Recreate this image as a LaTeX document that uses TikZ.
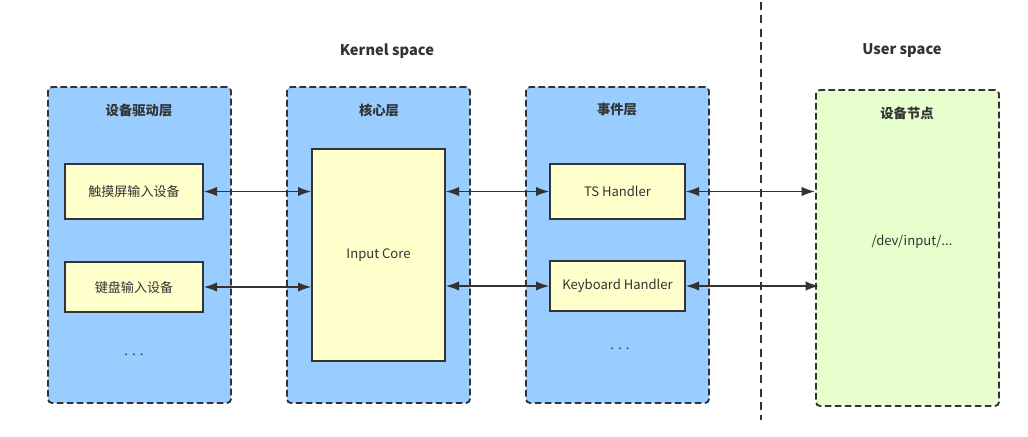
\documentclass[tikz,border=0pt]{standalone}
\usepackage{fontspec}
\setmainfont{Noto Sans CJK SC}
\usetikzlibrary{calc,arrows.meta}
\definecolor{grpblue}{HTML}{99CCFF}
\definecolor{grpgreen}{HTML}{E6FFCC}
\definecolor{boxyellow}{HTML}{FFFFCC}
\definecolor{inkgray}{HTML}{333333}

\begin{document}
\begin{tikzpicture}[x=0.75pt,y=-0.75pt,
    group/.style={draw=inkgray,line width=1.4pt,dash pattern=on 5pt off 2.5pt,
      rounded corners=3pt,fill=grpblue,minimum width=137.25pt,minimum height=237pt,inner sep=0pt},
    unit/.style={draw=inkgray,line width=1pt,fill=boxyellow,minimum width=103.5pt,
      minimum height=41.25pt,inner sep=0pt,text=inkgray,font=\fontsize{9.8}{11}\selectfont},
    title/.style={text=inkgray,font=\fontsize{10}{12}\selectfont\bfseries},
    link/.style={<->,>={Latex[length=10pt,width=7pt]},draw=inkgray,line width=1.3pt}]
  \useasboundingbox (0,0) rectangle (1028,436);
  \fill[white] (0,0) rectangle (1028,436);
  % kernel / user split
  \draw[inkgray,line width=1.5pt,dash pattern=on 6pt off 4pt] (761,2) -- (761,420);
  \node[title,font=\fontsize{11}{13}\selectfont\bfseries] (kernel) at (387,51) {Kernel space};
  \node[title,font=\fontsize{11}{13}\selectfont\bfseries] (userspace) at (902,51) {User space};
  % groups
  \node[group] (drv) at (139.5,245) {};
  \node[group] (corel) at (378.5,245) {};
  \node[group] (evt) at (617.5,245) {};
  \node[group,fill=grpgreen] (user) at (907.5,248) {};
  \node[title] (drvt) at (139,110) {设备驱动层};
  \node[title] (corelt) at (379,110) {核心层};
  \node[title] (evtt) at (617,110) {事件层};
  \node[title] (usert) at (907,113) {设备节点};
  % boxes
  \node[unit] (touch) at (134,191.5) {触摸屏输入设备};
  \node[unit,minimum height=37.5pt] (kbd) at (134,287) {键盘输入设备};
  \node[text=inkgray] (drvdots) at (134,355) {. . .};
  \node[unit,minimum width=99.75pt,minimum height=159pt] (core) at (378.5,255) {Input Core};
  \node[unit,minimum width=101.25pt] (ts) at (617.5,191.5) {TS Handler};
  \node[unit,minimum width=101.25pt,minimum height=37.5pt] (kbh) at (617.5,286) {Keyboard Handler};
  \node[text=inkgray] (evtdots) at (620,349) {. . .};
  \node[text=inkgray,font=\fontsize{9.8}{11}\selectfont] (dev) at (912,242) {/dev/input/...};
  % links
  \draw[link] (touch.east) -- (touch.east -| core.west);
  \draw[link] (kbd.east) -- (kbd.east -| core.west);
  \draw[link] (ts.west -| core.east) -- (ts.west);
  \draw[link] (kbh.west -| core.east) -- (kbh.west);
  \draw[link] (ts.east) -- (ts.east -| user.west);
  \draw[link] (kbh.east) -- ($(kbh.east -| user.west)+(4,0)$);
\end{tikzpicture}
\end{document}
